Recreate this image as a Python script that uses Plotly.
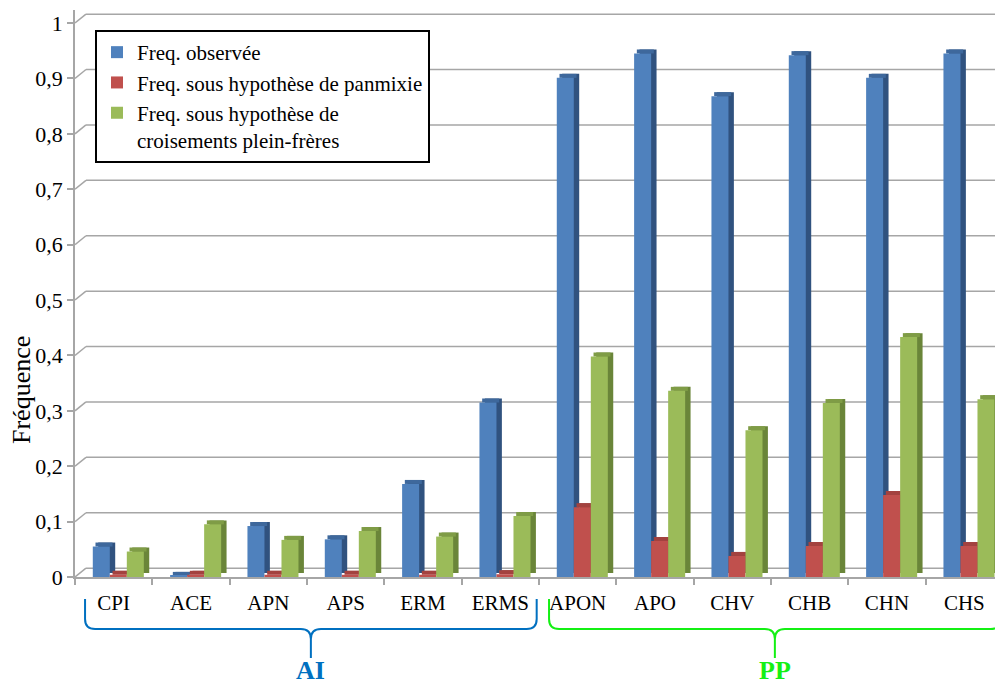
import plotly.graph_objects as go

# ---------------- data ----------------
categories = ["CPI", "ACE", "APN", "APS", "ERM", "ERMS",
              "APON", "APO", "CHV", "CHB", "CHN", "CHS"]
freq_observee = [0.055, 0.002, 0.092, 0.068, 0.168, 0.315,
                 0.901, 0.945, 0.868, 0.942, 0.901, 0.945]
freq_panmixie = [0.004, 0.004, 0.004, 0.004, 0.004, 0.005,
                 0.126, 0.065, 0.038, 0.056, 0.148, 0.056]
freq_pleinfreres = [0.046, 0.095, 0.067, 0.083, 0.073, 0.110,
                    0.398, 0.336, 0.265, 0.314, 0.433, 0.321]
series_names = ["Freq. observée",
                "Freq. sous hypothèse de panmixie",
                "Freq. sous hypothèse de<br>croisements plein-frères"]
y_tick_values = [0, 0.1, 0.2, 0.3, 0.4, 0.5, 0.6, 0.7, 0.8, 0.9, 1.0]
y_tick_labels = ["0", "0,1", "0,2", "0,3", "0,4", "0,5", "0,6", "0,7", "0,8", "0,9", "1"]
group_names = ["AI", "PP"]
group_first = [0, 6]
group_last = [5, 11]

# ---------------- styles ----------------
front_colors = ["#4F81BD", "#C0504D", "#9BBB59"]
side_colors = ["#30527F", "#8A3835", "#6A8539"]
top_colors = ["#3E689C", "#A3423F", "#7F9C46"]
bar_offsets = [-0.27, -0.05, 0.17]
bar_width = 0.22
depth_x = 0.07      # 3D depth, x units
depth_y = 0.0072    # 3D depth, y units
group_colors = ["#0070C0", "#14F014"]
FONT = "Liberation Serif"
GRID = "#A6A6A6"

series_values = [freq_observee, freq_panmixie, freq_pleinfreres]
xpos = list(range(len(categories)))
n = len(categories)

fig = go.Figure()

# side (back) faces
for vals, c, off in zip(series_values, side_colors, bar_offsets):
    fig.add_trace(go.Bar(x=xpos, y=vals, base=[depth_y] * n, width=bar_width,
                         offset=off + depth_x, marker=dict(color=c, line=dict(width=0)),
                         showlegend=False, hoverinfo="skip"))
# top faces
for vals, c, off in zip(series_values, top_colors, bar_offsets):
    fig.add_trace(go.Bar(x=xpos, y=[depth_y] * n, base=vals, width=bar_width,
                         offset=off + depth_x / 2, marker=dict(color=c, line=dict(width=0)),
                         showlegend=False, hoverinfo="skip"))
# front faces
for name, vals, c, off in zip(series_names, series_values, front_colors, bar_offsets):
    fig.add_trace(go.Bar(x=xpos, y=vals, width=bar_width, offset=off, name=name,
                         marker=dict(color=c, line=dict(width=0))))

# 3D back-wall gridlines
xmin, xmax = -0.5, n - 0.5
dxw = 0.142
dyw = 0.016
shapes = []
for v in y_tick_values:
    shapes.append(dict(type="line", xref="x", yref="y", x0=xmin, y0=v, x1=xmin + dxw, y1=v + dyw,
                       line=dict(color=GRID, width=1.5), layer="below"))
    shapes.append(dict(type="line", xref="x", yref="y", x0=xmin + dxw, y0=v + dyw, x1=xmax, y1=v + dyw,
                       line=dict(color=GRID, width=1.5), layer="below"))

# group braces
def py(p):
    return (577 - p) / 567.0

y_top, y_h, y_tip = py(599), py(629), py(658)
rx, ry = 0.13, 10 / 567.0
annotations = []
for gname, g0, g1, gc in zip(group_names, group_first, group_last, group_colors):
    x0 = g0 - 0.37
    x1 = g1 + 0.47
    xm = (x0 + x1) / 2
    path = (f"M {x0},{y_top} L {x0},{y_h + ry} Q {x0},{y_h} {x0 + rx},{y_h} "
            f"L {xm - rx},{y_h} Q {xm},{y_h} {xm},{y_h - ry} L {xm},{y_tip} "
            f"M {xm},{y_h - ry} Q {xm},{y_h} {xm + rx},{y_h} "
            f"L {x1 - rx},{y_h} Q {x1},{y_h} {x1},{y_h + ry} L {x1},{y_top}")
    shapes.append(dict(type="path", xref="x", yref="paper", path=path,
                       line=dict(color=gc, width=2)))
    annotations.append(dict(x=xm, y=py(670), xref="x", yref="paper", text=f"<b>{gname}</b>",
                            showarrow=False, font=dict(family=FONT, size=26, color=gc),
                            xanchor="center", yanchor="middle"))

annotations.append(dict(x=-54 / 928, y=py(390), xref="paper", yref="paper", text="Fréquence",
                        textangle=-90, showarrow=False, font=dict(family=FONT, size=26, color="black"),
                        xanchor="center", yanchor="middle"))

# page has an 8px body margin: figure occupies 8..1003 x 8..687
fig.update_layout(
    width=995, height=679,
    margin=dict(l=67, r=0, t=2, b=110),
    paper_bgcolor="white", plot_bgcolor="white",
    barmode="overlay",
    font=dict(family=FONT, color="black"),
    shapes=shapes,
    annotations=annotations,
    legend=dict(x=20 / 928, y=py(30), xanchor="left", yanchor="top",
                bgcolor="white", bordercolor="black", borderwidth=2,
                font=dict(family=FONT, size=21, color="black"), valign="top",
                tracegroupgap=0),
    xaxis=dict(range=[xmin, xmax], tickmode="array", tickvals=xpos, ticktext=categories,
               ticks="", showline=True, linecolor=GRID, linewidth=1.5,
               showgrid=False, zeroline=False, tickfont=dict(family=FONT, size=21, color="black"),
               ticklabelstandoff=6,
               minor=dict(tickmode="array", tickvals=[i - 0.5 for i in range(n + 1)],
                          ticks="outside", ticklen=6, tickcolor=GRID, tickwidth=1.5, showgrid=False)),
    yaxis=dict(range=[0, 567 / 554], tickmode="array", tickvals=y_tick_values, ticktext=y_tick_labels,
               ticks="outside", ticklen=6, tickcolor=GRID, tickwidth=1.5,
               showline=True, linecolor=GRID, linewidth=1.5,
               showgrid=False, zeroline=False,
               tickfont=dict(family=FONT, size=22, color="black")),
)

fig.write_html("out.html")
